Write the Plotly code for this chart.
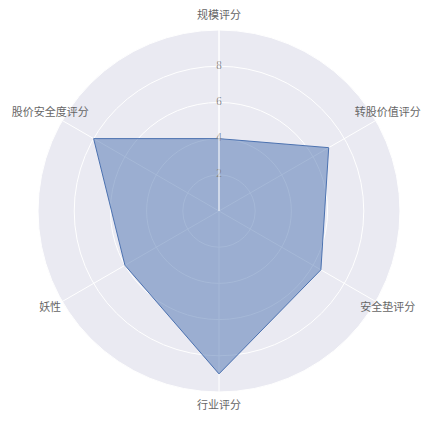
import plotly.graph_objects as go

# 各项评分
categories = ['规模评分', '转股价值评分', '安全垫评分', '行业评分', '妖性', '股价安全度评分']
scores = [4, 7, 6.5, 9, 6, 8]
radial_ticks = [2, 4, 6, 8]

# 闭合多边形
r_vals = scores + scores[:1]
theta_vals = categories + categories[:1]

FONT = 'Noto Sans CJK SC'

fig = go.Figure()
fig.add_trace(go.Scatterpolar(r=r_vals, theta=theta_vals, fill='toself',
                              mode='lines', line=dict(width=1)))
# 径向刻度
fig.add_trace(go.Scatterpolar(r=radial_ticks, theta=[categories[0]] * len(radial_ticks),
                              mode='text', text=[str(t) for t in radial_ticks],
                              textfont=dict(family=FONT, color='#888', size=10),
                              hoverinfo='skip'))
# 外圈类别名称 (放在一个稍大的透明极坐标上)
fig.add_trace(go.Scatterpolar(r=[9.75] * len(categories), theta=categories,
                              mode='text', text=categories, subplot='polar2',
                              textfont=dict(family=FONT, color='#666', size=11),
                              hoverinfo='skip'))

fig.update_layout(
    template='seaborn',
    margin=dict(l=11, r=13, t=2, b=3),
    font=dict(family=FONT, size=11, color='#666'),
    showlegend=False,
    polar=dict(
        domain=dict(x=[0, 1], y=[0.0498, 0.9502]),
        angularaxis=dict(direction='clockwise', rotation=90, showticklabels=False),
        radialaxis=dict(range=[0, 10], tickvals=radial_ticks, angle=90,
                        showticklabels=False),
    ),
    polar2=dict(
        domain=dict(x=[0, 1], y=[0, 1]),
        bgcolor='rgba(0,0,0,0)',
        angularaxis=dict(direction='clockwise', rotation=90, visible=False,
                         categoryorder='array', categoryarray=categories),
        radialaxis=dict(range=[0, 10], visible=False),
    ),
)

fig.write_html("out.html")
